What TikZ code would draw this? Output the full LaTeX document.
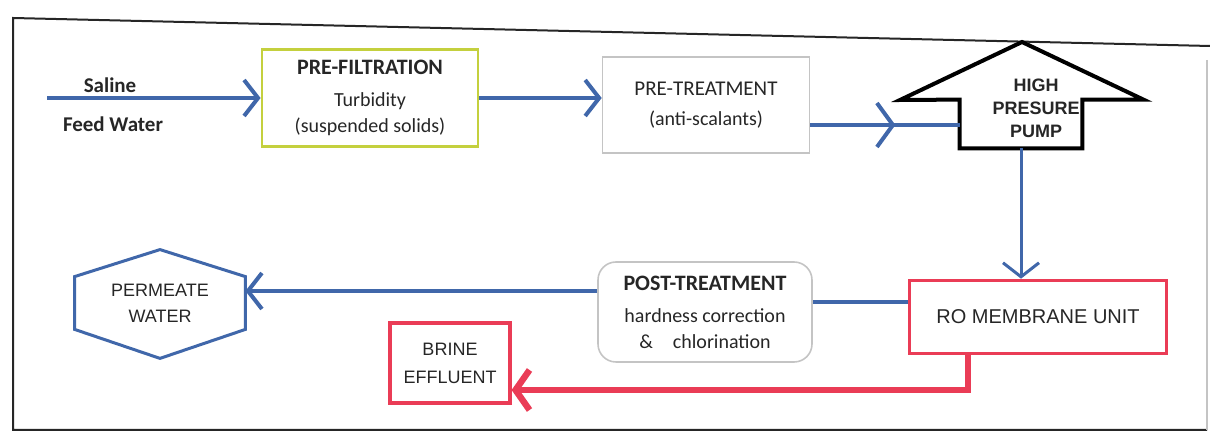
\documentclass[tikz,border=0pt]{standalone}
\usepackage{fontspec}
\setmainfont{Carlito}
\newfontfamily\arialfont{Liberation Sans}
\usepackage{tikz}
\usetikzlibrary{arrows.meta,positioning,calc,decorations.markings}
\definecolor{flowblue}{RGB}{64,103,170}
\definecolor{brinered}{RGB}{234,60,86}
\definecolor{filtergreen}{RGB}{196,208,62}
\definecolor{boxgray}{RGB}{196,196,196}
\definecolor{inkgray}{RGB}{38,38,38}

\begin{document}
\begin{tikzpicture}[x=0.5pt, y=-0.5pt,
          box/.style={line width=1.4pt, align=center, inner sep=0pt,
                      font=\fontsize{10}{12}\selectfont, text=inkgray},
          flow/.style={-{Straight Barb[length=7pt,width=18pt]}, line width=2pt, flowblue},
          midhead/.style={postaction={decorate}, decoration={markings,
                      mark=at position 0.57 with {\arrow{Straight Barb[length=8pt,width=22pt]}}}},
          brineflow/.style={-{Straight Barb[length=7pt,width=20pt]}, line width=3.2pt, brinered}
        ]
          \useasboundingbox (0,0) rectangle (1210,437);
          % frame
          \draw[inkgray, line width=1pt] (1210,46) -- (13,18) -- (13,430) -- (1207,430);
          \draw[boxgray, line width=0.8pt] (1207,60) -- (1207,430);

          % top row
          \node[font=\bfseries\fontsize{10.5}{12}\selectfont, text=inkgray] (saline) at (110,85) {Saline};
          \node[font=\bfseries\fontsize{10.5}{12}\selectfont, text=inkgray] (feed) at (113,124) {Feed Water};
          \coordinate (feedin) at (47,98);
          \node[box, draw=filtergreen, minimum width=108pt, minimum height=48.5pt] (prefilt) at (370,98)
            {{\bfseries\fontsize{11}{12}\selectfont PRE-FILTRATION}\\[4pt] Turbidity\\[1pt] (suspended solids)};
          \node[box, draw=boxgray, line width=0.8pt, minimum width=103.5pt, minimum height=48pt] (pretreat) at (706,105)
            {{\fontsize{10.5}{12}\selectfont PRE-TREATMENT}\\[3pt] (anti-scalants)};
          \node[minimum width=61pt, minimum height=24pt, inner sep=0pt] (pump) at (1021,124) {};
          \draw[black, line width=2pt, line join=miter] (pump.north west) -- (pump.south west) -- (pump.south east)
            -- (pump.north east) -- ++(61,0) -- (1022,42) -- (900,100) -- cycle;
          \node[align=center, font=\arialfont\bfseries\fontsize{9}{11.5}\selectfont, text=inkgray] (pumptext) at (1036,108)
            {HIGH\\PRESURE\\PUMP};

          % bottom row
          \node[box, draw=brinered, line width=1.8pt, minimum width=128.5pt, minimum height=36.5pt,
                font=\arialfont\fontsize{10}{12}\selectfont] (ro) at (1038,317) {RO MEMBRANE UNIT};
          \node[box, draw=boxgray, line width=0.8pt, rounded corners=9pt, minimum width=107pt, minimum height=50pt] (post) at (705,312)
            {{\bfseries\fontsize{11}{12}\selectfont POST-TREATMENT}\\[4pt] hardness correction\\[1pt] \&\quad chlorination};
          \node[align=center, inner sep=0pt, minimum width=85pt, minimum height=26pt,
                font=\arialfont\fontsize{9}{13}\selectfont, text=inkgray] (permeate) at (160,303) {PERMEATE\\WATER};
          \draw[flowblue, line width=1.5pt] (permeate.north west) -- ($(permeate.north)+(0,-27)$) -- (permeate.north east)
            -- (permeate.south east) -- ($(permeate.south)+(0,29)$) -- (permeate.south west) -- cycle;
          \node[box, draw=brinered, line width=1.6pt, minimum width=60pt, minimum height=40pt,
                font=\arialfont\fontsize{9}{14}\selectfont] (brine) at (450,363) {BRINE\\EFFLUENT};

          % connectors
          \coordinate (pumpin) at ($(pretreat.east)+(0,20)$);
          \coordinate (roout) at ($(ro.west)+(0,-15)$);
          \coordinate (postout) at ($(post.west)+(0,-21)$);
          \coordinate (brinebend) at (968,390);
          \draw[flow] (feedin) -- (prefilt.west |- feedin);
          \draw[flow] (prefilt.east) -- (prefilt.east -| pretreat.west);
          \draw[flowblue, line width=2pt, midhead] (pumpin) -- (pumpin -| pump.west);
          \draw[flow, line width=1.5pt] (pump.south) -- (pump.south |- ro.north);
          \draw[flowblue, line width=2pt] (roout) -- (roout -| post.east);
          \draw[flow] (postout) -- (postout -| permeate.east);
          \draw[brineflow] (ro.south -| brinebend) -- (brinebend) -- (brinebend -| brine.east);
        \end{tikzpicture}
\end{document}
